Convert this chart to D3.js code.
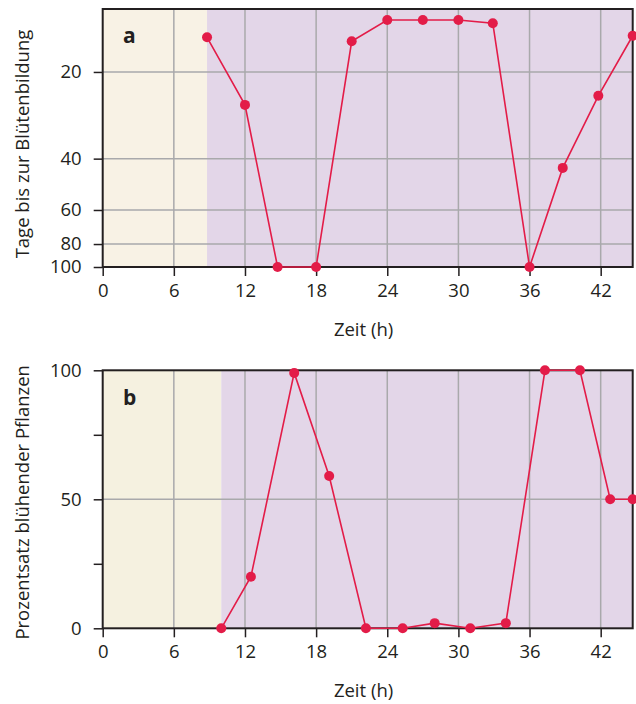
<!DOCTYPE html>
<html>
<head>
<meta charset="utf-8">
<script src="https://cdn.jsdelivr.net/npm/d3@7"></script>
<style>
  html, body { margin: 0; padding: 0; background: #fff; }
  svg { display: block; }
  text { font-family: "Open Sans", "Noto Sans", sans-serif; fill: #231f20; }
</style>
</head>
<body>
<svg id="chart" width="636" height="704"></svg>
<script>
// Panel a: days until flowering, depending on the length of the dark period (h)
const hoursA = [8.8, 12, 14.75, 18, 21, 24, 27, 30, 32.9, 36, 38.8, 41.8, 44.7];
const daysToFlowering = [15.6, 27.6, 100, 100, 16.1, 13.4, 13.4, 13.4, 13.8, 100, 43.6, 25.5, 15.4];

// Panel b: percentage of flowering plants
const hoursB = [10, 12.5, 16.15, 19.1, 22.2, 25.3, 28, 31, 34, 37.3, 40.25, 42.8, 44.7];
const percentFlowering = [0, 20, 99, 59, 0, 0, 2, 0, 2, 100, 100, 50, 50];

// Axis ticks
const hourTicks = [0, 6, 12, 18, 24, 30, 36, 42];
const dayTicks = [20, 40, 60, 80, 100];
const percentTicks = [0, 25, 50, 75, 100];
const percentLabels = [0, 50, 100];
const percentGrid = [50];

// Light phase (beige) before darkness starts
const lightEndA = 8.8;
const lightEndB = 10;
const hourMax = 44.7;

const svg = d3.select("#chart");
const left = 102.7, right = 632.7;
const red = "#e31c48";
const tickFont = 18.5;

const x = d3.scaleLinear().domain([0, hourMax]).range([left, right]);

function panel(cfg) {
  const g = svg.append("g");
  const y = cfg.y;
  const [yBottom, yTop] = [y.range()[y.range().length - 1], y.range()[0]];

  // backgrounds
  g.append("rect")
    .attr("x", x(0)).attr("y", yTop)
    .attr("width", x(cfg.lightEnd) - x(0)).attr("height", yBottom - yTop)
    .attr("fill", cfg.lightColor);
  g.append("rect")
    .attr("x", x(cfg.lightEnd)).attr("y", yTop)
    .attr("width", x(hourMax) - x(cfg.lightEnd)).attr("height", yBottom - yTop)
    .attr("fill", "#e3d6e8");

  // grid
  g.selectAll(".vgrid").data(hourTicks.filter(d => d > 0)).join("line")
    .attr("x1", d => x(d)).attr("x2", d => x(d))
    .attr("y1", yTop).attr("y2", yBottom)
    .attr("stroke", "#a9a9ab").attr("stroke-width", 1.5);
  g.selectAll(".hgrid").data(cfg.grid).join("line")
    .attr("x1", left).attr("x2", right)
    .attr("y1", d => y(d)).attr("y2", d => y(d))
    .attr("stroke", "#a9a9ab").attr("stroke-width", 1.5);

  // axes
  const xAxis = g.append("g").attr("transform", `translate(0,${yBottom})`)
    .call(d3.axisBottom(x).tickValues(hourTicks).tickSize(9).tickPadding(8));
  const yAxis = g.append("g").attr("transform", `translate(${left},0)`)
    .call(d3.axisLeft(y).tickValues(cfg.ticks).tickSize(9).tickPadding(12)
      .tickFormat(d => cfg.labels.includes(d) ? d : ""));
  [xAxis, yAxis].forEach(a => {
    a.select(".domain").remove();
    a.selectAll(".tick line").attr("stroke", "#231f20").attr("stroke-width", 1.5);
    a.selectAll(".tick text").attr("font-size", tickFont).attr("font-family", "Open Sans").attr("fill", "#231f20");
  });

  // frame
  g.append("rect")
    .attr("x", left).attr("y", yTop)
    .attr("width", right - left).attr("height", yBottom - yTop)
    .attr("fill", "none").attr("stroke", "#231f20").attr("stroke-width", 2);

  // series
  const pts = cfg.xs.map((h, i) => [h, cfg.vs[i]]);
  g.append("path")
    .attr("d", d3.line().x(d => x(d[0])).y(d => y(d[1]))(pts))
    .attr("fill", "none").attr("stroke", red).attr("stroke-width", 1.6);
  g.selectAll(".pt").data(pts).join("circle")
    .attr("cx", d => x(d[0])).attr("cy", d => y(d[1])).attr("r", 5)
    .attr("fill", red);

  // panel letter
  g.append("text").attr("x", 123).attr("y", yTop + cfg.letterDy)
    .attr("font-size", 21).attr("font-weight", "bold").text(cfg.letter);

  // axis titles
  g.append("text")
    .attr("x", x(22)).attr("y", yBottom + 69)
    .attr("text-anchor", "middle").attr("font-size", tickFont).text("Zeit (h)");
  g.append("text")
    .attr("transform", `translate(29,${(yTop + yBottom) / 2 + cfg.titleShift}) rotate(-90)`)
    .attr("text-anchor", "middle").attr("font-size", tickFont).text(cfg.title);
}

// Panel a uses a compressed scale for days (piecewise)
const topA = 9, bottomA = 267, hA = bottomA - topA;
const dayStops = [12, 20, 40, 60, 80, 100];
const dayFrac = [0, 0.244, 0.58, 0.779, 0.911, 1];
const yA = d3.scaleLinear().domain(dayStops).range(dayFrac.map(f => topA + f * hA));

const topB = 370.3, bottomB = 628.3;
const yB = d3.scaleLinear().domain([100, 0]).range([topB, bottomB]);

panel({
  y: yA, lightEnd: lightEndA, lightColor: "#f8f2e5",
  grid: dayTicks.filter(d => d < 100), ticks: dayTicks, labels: dayTicks,
  xs: hoursA, vs: daysToFlowering, letter: "a", letterDy: 34,
  title: "Tage bis zur Blütenbildung", titleShift: 6
});
panel({
  y: yB, lightEnd: lightEndB, lightColor: "#f5f1e0",
  grid: percentGrid, ticks: percentTicks, labels: percentLabels,
  xs: hoursB, vs: percentFlowering, letter: "b", letterDy: 35,
  title: "Prozentsatz blühender Pflanzen", titleShift: 3
});
</script>
</body>
</html>
